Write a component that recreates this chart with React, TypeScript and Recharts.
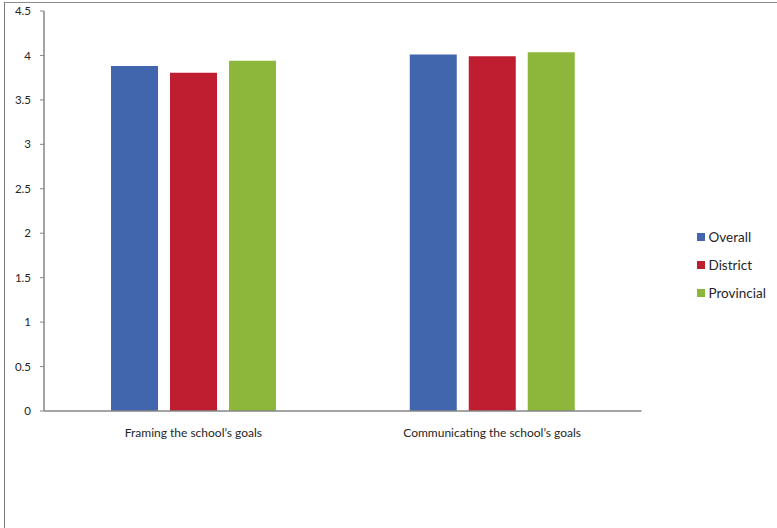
import React from "react";
import { BarChart, Bar, XAxis, YAxis } from "recharts";

const categories = ["Framing the school\u2019s goals", "Communicating the  school\u2019s goals"];
const overall = [3.88, 4.01];
const district = [3.805, 3.99];
const provincial = [3.94, 4.035];
const yTicks = [0, 0.5, 1, 1.5, 2, 2.5, 3, 3.5, 4, 4.5];

const seriesNames = ["Overall", "District", "Provincial"];
const seriesKeys = ["overall", "district", "provincial"];
const seriesColors = ["#4166ae", "#be1e30", "#8db73a"];

const data = categories.map((c, i) => ({
  name: c,
  overall: overall[i],
  district: district[i],
  provincial: provincial[i],
}));

const FONT = "Lato, 'Open Sans', sans-serif";

export default function App() {
  return (
    <div
      style={{
        position: "absolute",
        left: 0,
        top: 0,
        width: 777,
        height: 528,
        background: "#fff",
        fontFamily: FONT,
        overflow: "hidden",
      }}
    >
      <div
        style={{
          position: "absolute",
          left: 4,
          top: 2,
          width: 773,
          height: 526,
          borderTop: "1px solid #8c8c8c",
          borderLeft: "1px solid #7a7a7a",
        }}
      />
      <div style={{ position: "absolute", left: 0, top: 0 }}>
        <BarChart
          width={777}
          height={528}
          data={data}
          margin={{ top: 11, right: 135.5, bottom: 87, left: 0 }}
          barSize={47}
          barGap={12}
        >
          <XAxis
            dataKey="name"
            height={30}
            tickLine={false}
            tickSize={0}
            tickMargin={17}
            axisLine={{ stroke: "#868686", strokeWidth: 1.5 }}
            tick={{ fill: "#262626", fontSize: 12, fontFamily: FONT }}
            interval={0}
          />
          <YAxis
            width={44}
            domain={[0, 4.5]}
            ticks={yTicks}
            tickSize={4}
            tickMargin={9}
            axisLine={{ stroke: "#868686", strokeWidth: 1.5 }}
            tickLine={{ stroke: "#868686" }}
            tick={{ fill: "#262626", fontSize: 11.5, fontFamily: FONT }}
            interval={0}
          />
          {seriesKeys.map((k, i) => (
            <Bar key={k} dataKey={k} name={seriesNames[i]} fill={seriesColors[i]} isAnimationActive={false} />
          ))}
        </BarChart>
      </div>
      <div style={{ position: "absolute", left: 697, top: 223 }}>
        {seriesNames.map((n, i) => (
          <div key={n} style={{ display: "flex", alignItems: "center", height: 28 }}>
            <div style={{ width: 7.5, height: 7.5, background: seriesColors[i], marginRight: 4 }} />
            <span style={{ fontSize: 13.5, color: "#262626", lineHeight: "16px" }}>{n}</span>
          </div>
        ))}
      </div>
    </div>
  );
}
